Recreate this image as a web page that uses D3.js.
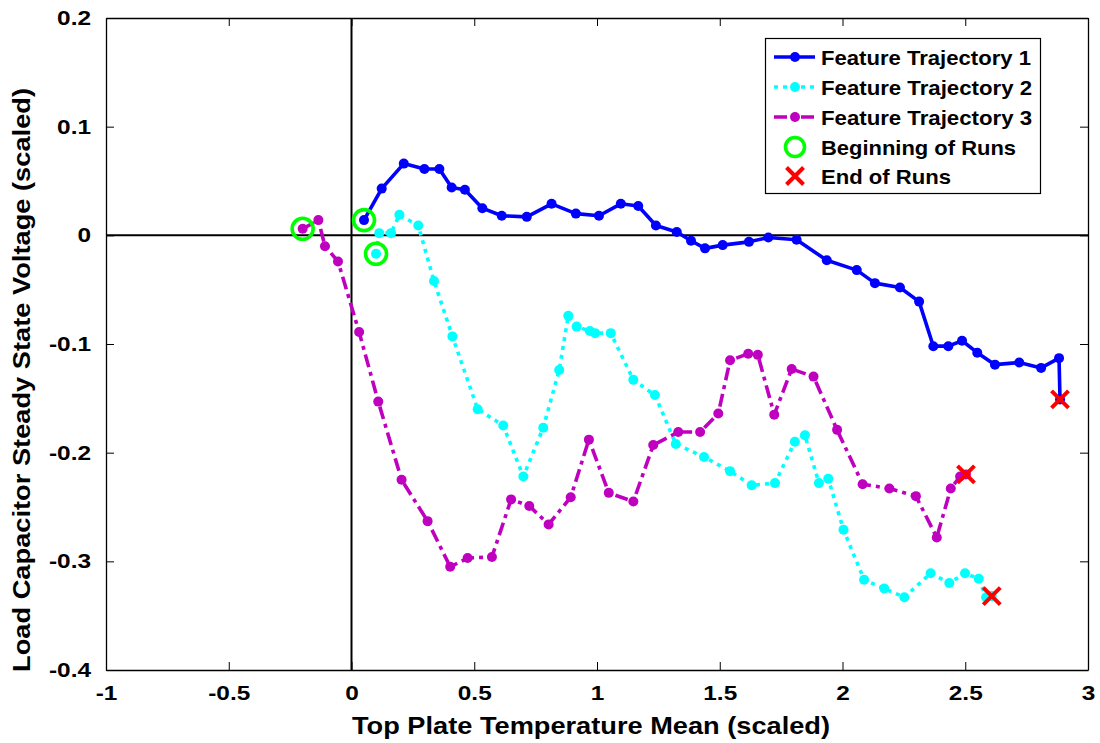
<!DOCTYPE html>
<html>
<head>
<meta charset="utf-8">
<script src="https://cdn.jsdelivr.net/npm/d3@7"></script>
<style>
  html, body { margin: 0; padding: 0; background: #fff; }
  svg { display: block; }
  text { font-family: "Liberation Sans", Arial, sans-serif; font-weight: bold; fill: #000; }
</style>
</head>
<body>
<svg id="chart" width="1100" height="743"></svg>
<script>
// Feature trajectories: (temperature mean, capacitor voltage), both scaled
const traj1X = [0.051, 0.123, 0.213, 0.297, 0.358, 0.408, 0.462, 0.533, 0.612, 0.714, 0.815, 0.914, 1.008, 1.097, 1.168, 1.240, 1.325, 1.383, 1.440, 1.512, 1.619, 1.698, 1.813, 1.936, 2.058, 2.132, 2.234, 2.312, 2.370, 2.431, 2.487, 2.549, 2.621, 2.720, 2.809, 2.882, 2.886];
const traj1Y = [0.014, 0.043, 0.066, 0.061, 0.061, 0.044, 0.042, 0.025, 0.018, 0.017, 0.029, 0.020, 0.018, 0.029, 0.027, 0.009, 0.003, -0.005, -0.012, -0.009, -0.006, -0.002, -0.004, -0.023, -0.032, -0.044, -0.048, -0.061, -0.102, -0.102, -0.097, -0.108, -0.119, -0.117, -0.122, -0.113, -0.151];

const traj2X = [0.100, 0.113, 0.161, 0.195, 0.272, 0.336, 0.411, 0.514, 0.618, 0.700, 0.781, 0.846, 0.883, 0.917, 0.971, 0.992, 1.056, 1.148, 1.236, 1.321, 1.436, 1.542, 1.630, 1.725, 1.806, 1.847, 1.904, 1.942, 2.004, 2.088, 2.170, 2.252, 2.359, 2.435, 2.499, 2.555, 2.585, 2.608];
const traj2Y = [-0.017, 0.002, 0.002, 0.019, 0.009, -0.042, -0.093, -0.160, -0.175, -0.222, -0.177, -0.124, -0.074, -0.084, -0.088, -0.090, -0.090, -0.133, -0.147, -0.192, -0.204, -0.217, -0.230, -0.228, -0.190, -0.184, -0.228, -0.224, -0.271, -0.317, -0.325, -0.333, -0.311, -0.320, -0.311, -0.316, -0.333, -0.332];

const traj3X = [-0.199, -0.135, -0.108, -0.055, 0.031, 0.109, 0.204, 0.310, 0.402, 0.473, 0.572, 0.650, 0.724, 0.803, 0.893, 0.967, 1.048, 1.148, 1.229, 1.331, 1.420, 1.494, 1.542, 1.616, 1.655, 1.722, 1.793, 1.882, 1.978, 2.082, 2.191, 2.299, 2.384, 2.441, 2.479, 2.503];
const traj3Y = [0.006, 0.014, -0.010, -0.024, -0.089, -0.153, -0.225, -0.263, -0.305, -0.297, -0.296, -0.243, -0.249, -0.266, -0.241, -0.188, -0.237, -0.245, -0.193, -0.181, -0.181, -0.164, -0.115, -0.109, -0.110, -0.165, -0.123, -0.130, -0.179, -0.229, -0.233, -0.240, -0.278, -0.233, -0.222, -0.220];

const xTicks = [-1, -0.5, 0, 0.5, 1, 1.5, 2, 2.5, 3];
const xTickLabels = ["-1", "-0.5", "0", "0.5", "1", "1.5", "2", "2.5", "3"];
const yTicks = [0.2, 0.1, 0, -0.1, -0.2, -0.3, -0.4];
const yTickLabels = ["0.2", "0.1", "0", "-0.1", "-0.2", "-0.3", "-0.4"];

const seriesNames = ["Feature Trajectory 1", "Feature Trajectory 2", "Feature Trajectory 3"];
const markerNames = ["Beginning of Runs", "End of Runs"];
const xTitle = "Top Plate Temperature Mean (scaled)";
const yTitle = "Load Capacitor Steady State Voltage (scaled)";

const svg = d3.select("#chart");
const L = 106, R = 1088, T = 18, B = 670;
const x = d3.scaleLinear().domain([-1, 3]).range([L, R]);
const y = d3.scaleLinear().domain([-0.4, 0.2]).range([B, T]);

const series = [
  { xs: traj1X, ys: traj1Y, color: "#0000ff", dash: null },
  { xs: traj2X, ys: traj2Y, color: "#00ffff", dash: "4,5" },
  { xs: traj3X, ys: traj3Y, color: "#bf00bf", dash: "13,5,4,5" }
];

// Axes box with inward ticks on all sides
const fmtX = d => xTickLabels[xTicks.indexOf(d)];
const fmtY = d => yTickLabels[yTicks.indexOf(d)];

const gx = svg.append("g").attr("transform", `translate(0,${B})`)
  .call(d3.axisBottom(x).tickValues(xTicks).tickFormat(fmtX).tickSizeInner(-8).tickSizeOuter(0).tickPadding(16));
const gxTop = svg.append("g").attr("transform", `translate(0,${T})`)
  .call(d3.axisTop(x).tickValues(xTicks).tickFormat("").tickSizeInner(-8).tickSizeOuter(0));
const gy = svg.append("g").attr("transform", `translate(${L},0)`)
  .call(d3.axisLeft(y).tickValues(yTicks).tickFormat(fmtY).tickSizeInner(-8).tickSizeOuter(0).tickPadding(15));
const gyRight = svg.append("g").attr("transform", `translate(${R},0)`)
  .call(d3.axisRight(y).tickValues(yTicks).tickFormat("").tickSizeInner(-8).tickSizeOuter(0));

[gx, gxTop, gy, gyRight].forEach(g => {
  g.attr("font-size", 20);
  g.select(".domain").attr("stroke", "#000").attr("stroke-width", 1.3);
  g.selectAll(".tick line").attr("stroke", "#000").attr("stroke-width", 1);
  g.selectAll("text").attr("font-size", 20).attr("font-family", "Liberation Sans, Arial, sans-serif")
    .attr("font-weight", "bold").attr("fill", "#000");
});
// Tick labels are set in a wide face; stretch glyphs horizontally
[gx, gy].forEach(g => {
  g.selectAll(".tick text").each(function () {
    const w = this.getComputedTextLength();
    d3.select(this).attr("textLength", w * 1.22).attr("lengthAdjust", "spacingAndGlyphs");
  });
});

// Zero reference lines
svg.append("line").attr("x1", x(0)).attr("x2", x(0)).attr("y1", T).attr("y2", B)
  .attr("stroke", "#000").attr("stroke-width", 2);
svg.append("line").attr("x1", L).attr("x2", R).attr("y1", y(0)).attr("y2", y(0))
  .attr("stroke", "#000").attr("stroke-width", 2);

// Trajectories
const line = d3.line();
series.forEach(s => {
  const pts = s.xs.map((v, i) => [x(v), y(s.ys[i])]);
  svg.append("path").attr("d", line(pts)).attr("fill", "none")
    .attr("stroke", s.color).attr("stroke-width", 3.6)
    .attr("stroke-dasharray", s.dash).attr("stroke-linejoin", "round");
  svg.append("g").selectAll("circle").data(pts).join("circle")
    .attr("cx", d => d[0]).attr("cy", d => d[1]).attr("r", 5).attr("fill", s.color);
});

// Start and end markers
const crossPath = (cx, cy, h) => `M${cx - h},${cy - h}L${cx + h},${cy + h}M${cx - h},${cy + h}L${cx + h},${cy - h}`;
series.forEach(s => {
  svg.append("circle").attr("cx", x(s.xs[0])).attr("cy", y(s.ys[0])).attr("r", 10.5)
    .attr("fill", "none").attr("stroke", "#00ff00").attr("stroke-width", 3.6);
});
series.forEach(s => {
  const n = s.xs.length - 1;
  svg.append("path").attr("d", crossPath(x(s.xs[n]), y(s.ys[n]), 8.5))
    .attr("stroke", "#ff0000").attr("stroke-width", 4).attr("fill", "none");
});

// Legend
const lg = svg.append("g");
lg.append("rect").attr("x", 765.5).attr("y", 38.5).attr("width", 275).attr("height", 155)
  .attr("fill", "#fff").attr("stroke", "#000").attr("stroke-width", 1.2);
const rowY = [57, 87, 117, 147, 176];
const labelEnds = [1031, 1032, 1032, 1016, 951];
const legendText = (i, str) => lg.append("text").attr("x", 821).attr("y", rowY[i]).attr("dy", "0.36em")
  .attr("font-size", 21).attr("textLength", labelEnds[i] - 821).attr("lengthAdjust", "spacingAndGlyphs").text(str);
series.forEach((s, i) => {
  lg.append("line").attr("x1", 774).attr("x2", 815).attr("y1", rowY[i]).attr("y2", rowY[i])
    .attr("stroke", s.color).attr("stroke-width", 3.6).attr("stroke-dasharray", s.dash);
  lg.append("circle").attr("cx", 795).attr("cy", rowY[i]).attr("r", 5).attr("fill", s.color);
  legendText(i, seriesNames[i]);
});
lg.append("circle").attr("cx", 795).attr("cy", rowY[3]).attr("r", 9.5)
  .attr("fill", "none").attr("stroke", "#00ff00").attr("stroke-width", 3.6);
legendText(3, markerNames[0]);
lg.append("path").attr("d", crossPath(795, rowY[4], 8.5)).attr("stroke", "#ff0000").attr("stroke-width", 4);
legendText(4, markerNames[1]);

// Axis titles
svg.append("text").attr("x", 591).attr("y", 734).attr("text-anchor", "middle")
  .attr("font-size", 24).attr("textLength", 478).attr("lengthAdjust", "spacingAndGlyphs").text(xTitle);
svg.append("text").attr("transform", `translate(30,380) rotate(-90)`).attr("text-anchor", "middle")
  .attr("font-size", 24).attr("textLength", 584).attr("lengthAdjust", "spacingAndGlyphs").text(yTitle);
</script>
</body>
</html>
